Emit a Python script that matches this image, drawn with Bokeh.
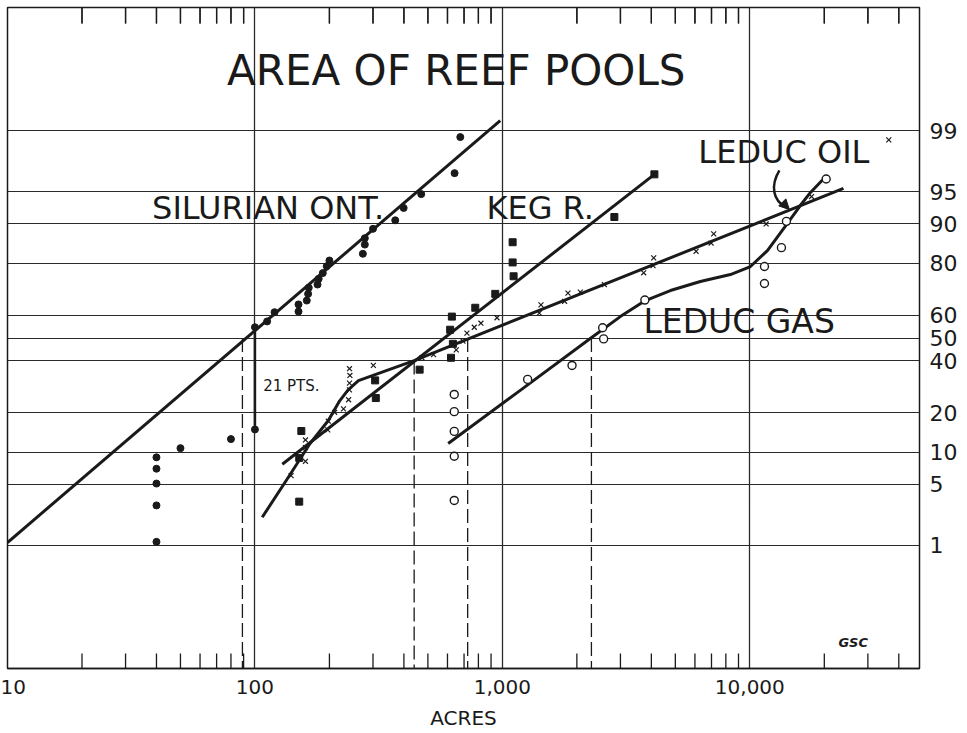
from statistics import NormalDist
from bokeh.plotting import figure
from bokeh.models import (Range1d, FixedTicker, NumeralTickFormatter, Label,
                          Arrow, NormalHead)
from bokeh.embed import file_html
from bokeh.resources import INLINE

# ---------------- data (acres, cumulative percent) ----------------
SIL_ACRES = [40, 40, 40, 40, 40, 50, 80, 100, 100, 112, 120, 150, 150, 162, 164, 165,
             179, 181, 188, 195, 200, 273, 278, 278, 300, 369, 399, 470, 641, 676]
SIL_PCT = [9.0, 7.1, 5.1, 3.0, 1.1, 10.8, 12.8, 15.2, 54.8, 57.4, 61.4, 61.7, 64.7, 66.3,
           69.0, 71.4, 72.6, 74.7, 76.7, 79.0, 80.8, 82.8, 85.3, 86.9, 89.0, 90.7, 92.8,
           94.7, 96.8, 98.8]
SIL_FIT_ACRES = [10, 980]
SIL_FIT_PCT = [1.08, 99.27]
SIL_GROUP_ACRES = [100]
SIL_GROUP_LOW = [15.2]
SIL_GROUP_HIGH = [54.8]

KEG_ACRES = [154, 151, 151, 306, 308, 463, 620, 631, 615, 625, 777, 936, 1110, 1100, 1100,
             2835, 4115]
KEG_PCT = [14.8, 8.9, 3.3, 31.7, 25.0, 36.1, 41.2, 47.4, 53.7, 59.5, 63.3, 69.0, 75.6, 80.2,
           85.9, 91.3, 96.7]
KEG_FIT_ACRES = [129, 4115]
KEG_FIT_PCT = [7.8, 96.7]

OIL_ACRES = [140, 160, 160, 160, 197, 198, 210, 228, 239, 241, 241, 242, 241, 301, 473, 527,
             651, 693, 719, 770, 819, 951, 1410, 1432, 1784, 1841, 2065, 2583, 3724, 4064,
             4088, 6066, 6975, 7145, 11640, 17760, 36440]
OIL_PCT = [6.1, 8.3, 10.9, 12.6, 15.1, 17.5, 20.2, 21.3, 24.4, 28.0, 30.6, 33.7, 36.5, 37.9,
           41.2, 42.6, 44.7, 48.6, 52.2, 54.8, 56.6, 59.0, 61.0, 64.5, 66.0, 69.3, 69.7, 72.6,
           76.8, 79.2, 81.6, 83.5, 85.7, 87.9, 90.0, 94.4, 98.7]
OIL_FIT_ACRES = [107, 134, 167, 198, 220, 238, 262, 440, 23900]
OIL_FIT_PCT = [2.2, 5.5, 11.8, 17.7, 24.0, 28.0, 31.6, 40.0, 95.35]

GAS_ACRES = [639, 639, 639, 639, 639, 1265, 1912, 2542, 2566, 3765, 11460, 11460, 13420,
             14060, 20350]
GAS_PCT = [26.3, 20.4, 14.7, 9.2, 3.4, 32.1, 37.9, 54.6, 49.6, 66.5, 78.9, 73.0, 84.5, 90.5,
           96.3]
GAS_FIT_ACRES = [604, 1181, 2266, 2997, 3783, 4776, 6311, 8348, 10060, 11780, 14190, 16020,
                 17590, 19660]
GAS_FIT_PCT = [11.8, 27.8, 49.8, 59.5, 66.3, 70.3, 73.7, 76.2, 78.9, 83.7, 90.1, 93.2, 94.9,
               96.2]

MEDIAN_ACRES = [89, 440, 724, 2290]
MEDIAN_TOP_PCT = [50, 40, 50, 50]

PCT_TICKS = [1, 5, 10, 20, 40, 50, 60, 80, 90, 95, 99]
X_DECADES = [10, 100, 1000, 10000]
X_MINOR = [m * d for d in (10, 100, 1000, 10000) for m in range(2, 10) if m * d < 48500]

TITLE = "AREA OF REEF POOLS"
X_LABEL = "ACRES"

# ---------------- helpers ----------------
ND = NormalDist()


def pz(p):
    return ND.inv_cdf(p / 100.0)


def zs(lst):
    return [pz(v) for v in lst]


Y_LIM = 3.713
X_MIN, X_MAX = 10, 48500
PX_PER_Z = 89.0
INK = "#1a1a1a"
FONT = "DejaVu Sans"
TOP_LEN = 16 / PX_PER_Z
BOT_LEN = 15 / PX_PER_Z

p = figure(width=967, height=733, x_axis_type="log", y_axis_location="right",
           x_range=Range1d(X_MIN, X_MAX), y_range=Range1d(-Y_LIM, Y_LIM),
           output_backend="svg", toolbar_location=None, title=None,
           min_border_left=7, min_border_top=7, min_border_right=48, min_border_bottom=65)
p.outline_line_color = INK
p.outline_line_width = 1.5


def top_ticks():
    p.segment(x0=X_MINOR, y0=[Y_LIM] * len(X_MINOR), x1=X_MINOR,
              y1=[Y_LIM - TOP_LEN] * len(X_MINOR), line_color=INK, line_width=1.3)


# inward minor tick marks along the top edge (log 2..9 positions)
top_ticks()

# bottom axis
ax = p.xaxis[0]
ax.ticker = FixedTicker(ticks=X_DECADES, minor_ticks=X_MINOR)
ax.formatter = NumeralTickFormatter(format="0,0")
ax.major_tick_in = 0
ax.major_tick_out = 0
ax.minor_tick_line_color = None
ax.axis_line_color = INK
ax.axis_line_width = 1.5
ax.major_label_text_font = FONT
ax.major_label_text_font_size = "20px"
ax.major_label_text_color = INK
ax.major_label_standoff = 7
ax.axis_label = X_LABEL
ax.axis_label_text_font = FONT
ax.axis_label_text_font_size = "20px"
ax.axis_label_text_font_style = "normal"
ax.axis_label_text_color = INK
ax.axis_label_standoff = 9

# right probability axis
YT = [round(pz(v), 6) for v in PCT_TICKS]
ya = p.yaxis[0]
ya.ticker = FixedTicker(ticks=YT)
ya.major_label_overrides = {t: str(v) for t, v in zip(YT, PCT_TICKS)}
ya.major_tick_in = 0
ya.major_tick_out = 0
ya.minor_tick_line_color = None
ya.axis_line_color = None
ya.major_label_text_font = FONT
ya.major_label_text_font_size = "22px"
ya.major_label_text_color = INK
ya.major_label_standoff = 10

# grids
p.xgrid.ticker = FixedTicker(ticks=X_DECADES)
p.xgrid.grid_line_color = "#2a2a2a"
p.xgrid.grid_line_width = 1.3
p.ygrid.ticker = FixedTicker(ticks=YT)
p.ygrid.grid_line_color = "#2a2a2a"
p.ygrid.grid_line_width = 1.2

# inward minor tick marks along the bottom edge
p.segment(x0=X_MINOR, y0=[-Y_LIM] * len(X_MINOR), x1=X_MINOR,
          y1=[-Y_LIM + BOT_LEN] * len(X_MINOR), line_color=INK, line_width=1.3)

# median dashed verticals
p.segment(x0=MEDIAN_ACRES, y0=zs(MEDIAN_TOP_PCT), x1=MEDIAN_ACRES,
          y1=[-Y_LIM] * len(MEDIAN_ACRES), line_color=INK, line_width=1.3,
          line_dash="14 5")

# group of 21 points at 100 acres
p.segment(x0=SIL_GROUP_ACRES, y0=zs(SIL_GROUP_LOW), x1=SIL_GROUP_ACRES,
          y1=zs(SIL_GROUP_HIGH), line_color=INK, line_width=2.5)

# fitted curves
for fx, fp in ((SIL_FIT_ACRES, SIL_FIT_PCT), (KEG_FIT_ACRES, KEG_FIT_PCT),
               (OIL_FIT_ACRES, OIL_FIT_PCT), (GAS_FIT_ACRES, GAS_FIT_PCT)):
    p.line(fx, zs(fp), line_color=INK, line_width=3, line_join="round")

# points
p.scatter(SIL_ACRES, zs(SIL_PCT), marker="circle", size=7, fill_color=INK, line_color=INK)
p.scatter(KEG_ACRES, zs(KEG_PCT), marker="square", size=7, fill_color=INK, line_color=INK)
p.scatter(OIL_ACRES, zs(OIL_PCT), marker="x", size=7, line_color=INK, line_width=1.2)
p.scatter(GAS_ACRES, zs(GAS_PCT), marker="circle", size=8, fill_color="white",
          line_color=INK, line_width=1.4)

# curved pointer from LEDUC OIL label to its curve
p.bezier(x0=[13170], y0=[1.882], x1=[14060], y1=[1.466], cx0=[12120], cy0=[1.713],
         cx1=[12340], cy1=[1.545], line_color=INK, line_width=2.5)

# top ticks drawn again after the other glyphs (same positions)
top_ticks()

# labels (x in acres, y in probit units)
LABELS = [
    (TITLE, 651, 3.010, "42px", "center", "normal"),
    ("SILURIAN ONT.", 38.4, 1.455, "32px", "left", "normal"),
    ("KEG R.", 862, 1.455, "32px", "left", "normal"),
    ("LEDUC OIL", 6194, 2.088, "32px", "left", "normal"),
    ("LEDUC GAS", 3716, 0.185, "33px", "left", "normal"),
    ("21 PTS.", 108, -0.540, "15px", "left", "normal"),
    ("GSC", 22800, -3.422, "13px", "left", "bold italic"),
]
for txt, lx, ly, fs, al, st in LABELS:
    p.add_layout(Label(x=lx, y=ly, text=txt, text_font=FONT, text_font_size=fs,
                       text_align=al, text_baseline="alphabetic", text_color=INK,
                       text_font_style=st))

p.add_layout(Arrow(end=NormalHead(size=10, fill_color=INK, line_color=INK),
                   x_start=13670, y_start=1.511, x_end=14450, y_end=1.444,
                   line_color=INK, line_width=2.5))

open("out.html", "w").write(file_html(p, INLINE))
